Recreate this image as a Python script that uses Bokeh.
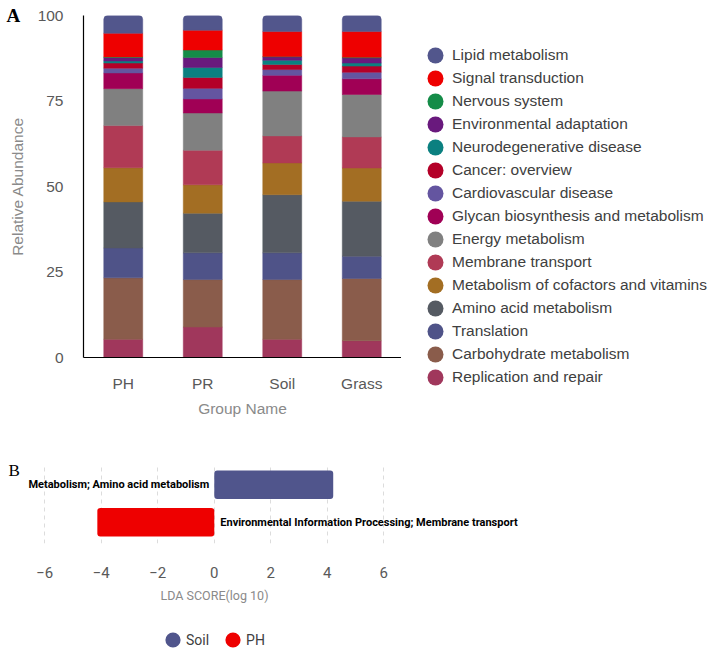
from bokeh.plotting import figure
from bokeh.layouts import row, column
from bokeh.models import (ColumnDataSource, FactorRange, Range1d, Legend, LegendItem,
                          Label, Title, FixedTicker)
from bokeh.core.properties import value
from bokeh.embed import file_html
from bokeh.resources import INLINE

# ---- Panel A: relative abundance of KEGG level-2 pathways per group ----
groups = ["PH", "PR", "Soil", "Grass"]

# stacked bottom -> top
pathways = [
    "Replication and repair",
    "Carbohydrate metabolism",
    "Translation",
    "Amino acid metabolism",
    "Metabolism of cofactors and vitamins",
    "Membrane transport",
    "Energy metabolism",
    "Glycan biosynthesis and metabolism",
    "Cardiovascular disease",
    "Cancer: overview",
    "Neurodegenerative disease",
    "Environmental adaptation",
    "Nervous system",
    "Signal transduction",
    "Lipid metabolism",
]

# values per group: PH, PR, Soil, Grass
replication = [5.3, 8.9, 5.3, 4.9]
carbohydrate = [18.0, 13.9, 17.5, 18.2]
translation = [8.7, 7.8, 7.8, 6.5]
amino_acid = [13.5, 11.6, 17.0, 16.1]
cofactors = [10.0, 8.3, 9.3, 9.7]
membrane = [12.3, 10.1, 7.9, 9.1]
energy = [10.8, 10.9, 13.1, 12.4]
glycan = [4.6, 4.1, 4.6, 4.6]
cardiovascular = [1.4, 3.1, 1.7, 1.9]
cancer = [1.5, 3.2, 1.5, 1.8]
neurodegenerative = [0.6, 2.9, 1.2, 0.9]
env_adaptation = [1.0, 2.9, 1.0, 1.5]
nervous = [0.2, 2.2, 0.1, 0.2]
signal = [6.9, 5.8, 7.3, 7.5]
lipid = [5.2, 4.3, 4.7, 4.7]

series = [replication, carbohydrate, translation, amino_acid, cofactors, membrane,
          energy, glycan, cardiovascular, cancer, neurodegenerative, env_adaptation,
          nervous, signal, lipid]

colors = ["#a0375c", "#8a5c4b", "#4f5388", "#555a62", "#a36e23", "#b03a55",
          "#808080", "#a00055", "#6455a0", "#b40028", "#0b8080", "#69197d",
          "#158c48", "#ee0000", "#52568c"]

y_ticks = [0, 25, 50, 75, 100]

src = ColumnDataSource(dict(group=groups, **{name: vals for name, vals in zip(pathways, series)}))

SANS = "Liberation Sans"
SERIF = "Liberation Serif"
COMPACT = "Roboto"


def bare(fig):
    """Keep each plot's own borders instead of lining frames up across the layout."""
    try:
        fig.frame_align = False
    except AttributeError:
        pass
    fig.outline_line_color = None
    return fig


p1 = bare(figure(x_range=FactorRange(*groups, range_padding=0), y_range=Range1d(0, 100),
                 width=401, height=420, min_border_left=83, min_border_right=0,
                 min_border_top=15, min_border_bottom=63,
                 output_backend="svg", toolbar_location=None))

bars = p1.vbar_stack(pathways, x="group", width=0.49, source=src,
                     fill_color=colors, line_color=colors, line_width=0.5)
bars[-1].glyph.border_radius = (4, 4, 0, 0)

p1.add_layout(Title(text="A", align="left", offset=-77, standoff=-21,
                    text_font=SERIF, text_font_style="bold", text_line_height=1.8,
                    text_font_size="19px", text_color="black"), "above")

p1.grid.grid_line_color = None
p1.yaxis.ticker = FixedTicker(ticks=y_ticks)
p1.yaxis.axis_label = "Relative Abundance"
p1.xaxis.axis_label = "Group Name"
for ax in (p1.xaxis, p1.yaxis):
    ax.axis_line_color = "black"
    ax.axis_line_width = 1.2
    ax.major_tick_line_color = None
    ax.minor_tick_line_color = None
    ax.major_tick_out = 0
    ax.major_label_text_font = SANS
    ax.major_label_text_font_size = "15.5px"
    ax.major_label_text_color = "#595959"
    ax.axis_label_text_font = SANS
    ax.axis_label_text_font_size = "15.5px"
    ax.axis_label_text_font_style = "normal"
    ax.axis_label_text_color = "#8a8a8a"
p1.yaxis.major_label_standoff = 20
p1.yaxis.axis_label_standoff = 9
p1.xaxis.major_label_standoff = 17
p1.xaxis.axis_label_standoff = 5

# legend for panel A lives in its own plot area to the right
leg_a = bare(figure(x_range=FactorRange(*groups), y_range=Range1d(0, 100),
                    width=313, height=420, min_border=0,
                    x_axis_location=None, y_axis_location=None,
                    output_backend="svg", toolbar_location=None))
leg_a.grid.grid_line_color = None
items = []
for name, col in zip(pathways, colors):
    r = leg_a.ellipse(x="group", y=name, width=0.01, height=0.01,
                      width_units="screen", height_units="screen", source=src,
                      fill_color=col, line_color=None)
    items.append(LegendItem(label=name, renderers=[r]))

leg_a.add_layout(Legend(items=items[::-1], location=(24, 33), orientation="vertical",
                        glyph_width=20, glyph_height=20, spacing=3, label_standoff=7,
                        label_height=20, padding=0, margin=0, border_line_color=None,
                        background_fill_alpha=0, label_text_font=SANS,
                        label_text_font_size="15.5px", label_text_color="#404040"))

# ---- Panel B: LEfSe LDA scores ----
features = ["Environmental Information Processing; Membrane transport",
            "Metabolism; Amino acid metabolism"]
lda_scores = [-4.14, 4.21]
enriched_in = ["PH", "Soil"]
group_colors = {"Soil": "#50558c", "PH": "#ee0000"}
lda_ticks = [-6, -4, -2, 0, 2, 4, 6]

src2 = ColumnDataSource(dict(
    feature=features,
    score=lda_scores,
    base=[0.0] * len(features),
    group=enriched_in,
    color=[group_colors[g] for g in enriched_in],
    align=["left" if s < 0 else "right" for s in lda_scores],
    xoff=[6 if s < 0 else -5 for s in lda_scores],
))

p2 = bare(figure(y_range=FactorRange(*features, range_padding=0.07),
                 x_range=Range1d(-7.568, 17.707),
                 width=714, height=200, min_border_left=0, min_border_right=0,
                 min_border_top=43, min_border_bottom=77, y_axis_location=None,
                 output_backend="svg", toolbar_location=None))

p2.hbar(y="feature", left="base", right="score", height=0.76, source=src2,
        fill_color="color", line_color=None, border_radius=3)

# feature names sit on the opposite side of the zero line
p2.text(x="base", y="feature", text="feature", x_offset="xoff", text_align="align",
        text_baseline="middle", text_font=value(COMPACT), text_font_style="bold",
        text_font_size="11px", text_color="black", source=src2)

p2.add_layout(Label(x=8, y=73, x_units="screen", y_units="screen", text="B",
                    text_font=SERIF, text_font_size="17px",
                    text_color="black", text_baseline="middle", text_align="left"))

p2.ygrid.grid_line_color = None
p2.xgrid.grid_line_color = "#dcdcdc"
p2.xgrid.grid_line_dash = "4 4"
p2.xaxis.ticker = FixedTicker(ticks=lda_ticks)
p2.xaxis.axis_line_color = None
p2.xaxis.major_tick_line_color = None
p2.xaxis.minor_tick_line_color = None
p2.xaxis.major_label_standoff = 17
p2.xaxis.major_label_text_font = COMPACT
p2.xaxis.major_label_text_font_size = "15px"
p2.xaxis.major_label_text_color = "#595959"

p2.add_layout(Title(text="LDA SCORE(log 10)", align="left", offset=160,
                    vertical_align="top", standoff=14, text_font=COMPACT,
                    text_font_size="12.5px", text_font_style="normal",
                    text_color="#8a8a8a"), "below")

# group legend for panel B
leg_b = bare(figure(x_range=Range1d(-7.568, 17.707), y_range=FactorRange(*features),
                    width=714, height=43, min_border=0,
                    x_axis_location=None, y_axis_location=None,
                    output_backend="svg", toolbar_location=None))
leg_b.grid.grid_line_color = None
leg_items = []
for g in ["Soil", "PH"]:
    sub = ColumnDataSource(dict(x=[s for s, e in zip(lda_scores, enriched_in) if e == g],
                                y=[f for f, e in zip(features, enriched_in) if e == g]))
    r = leg_b.ellipse(x="x", y="y", width=0.01, height=0.01, width_units="screen",
                      height_units="screen", source=sub, fill_color=group_colors[g],
                      line_color=None)
    leg_items.append(LegendItem(label=g, renderers=[r]))

leg_b.add_layout(Legend(items=leg_items, location=(163, 14), orientation="horizontal",
                        glyph_width=19, glyph_height=19, spacing=14, label_standoff=4,
                        padding=0, margin=0, border_line_color=None,
                        background_fill_alpha=0, label_text_font=COMPACT,
                        label_text_font_size="14px", label_text_color="#404040"))

layout = column(row(p1, leg_a, spacing=0), p2, leg_b, spacing=0)
open("out.html", "w").write(file_html(layout, INLINE))
